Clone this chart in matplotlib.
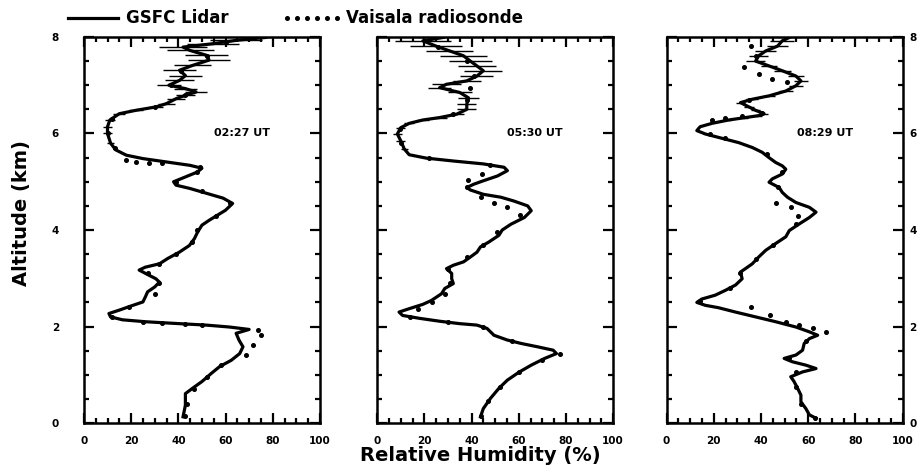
import numpy as np
import matplotlib
matplotlib.use('Agg')
import matplotlib.pyplot as plt
from matplotlib.ticker import MultipleLocator

# lidar profiles (altitude km, RH %, error %)
alt1 = [0.13, 0.37, 0.61, 0.72, 0.86, 1.03, 1.17, 1.30, 1.44, 1.58, 1.72, 1.86, 1.94, 1.99, 2.03, 2.06, 2.10, 2.14,
        2.20, 2.27, 2.34, 2.41, 2.51, 2.61, 2.72, 2.82, 2.92, 2.99, 3.06, 3.17, 3.23, 3.30, 3.41, 3.54, 3.68, 3.82,
        3.96, 4.10, 4.20, 4.41, 4.55, 4.66, 4.76, 4.86, 4.93, 5.00, 5.10, 5.20, 5.28, 5.34, 5.41, 5.48, 5.55, 5.66,
        5.80, 6.00, 6.14, 6.28, 6.41, 6.48, 6.55, 6.62, 6.72, 6.79, 6.86, 6.93, 7.00, 7.10, 7.20, 7.31, 7.41, 7.52,
        7.62, 7.72, 7.79, 7.86, 7.93, 7.99]
rh1 = [42, 43, 43, 46, 50, 54, 57.5, 62.4, 66, 67.4, 65.7, 64.5, 70, 61.7, 51.8, 40.4, 26, 16.3,
       11.3, 10.6, 15, 19, 25, 26, 27, 30, 32, 30.5, 27.7, 23.4, 26, 32, 35.5, 40.4, 44.7, 46.8,
       48.2, 50, 53, 60, 63, 59, 52, 45, 39, 38, 43, 48, 50, 45, 35, 25, 18, 13.5,
       11.3, 10, 10, 11, 15, 22, 30.5, 35, 39, 43, 47.5, 43, 36, 40.5, 43, 40.5, 46, 53,
       52, 45, 42, 54.6, 64.5, 77]
err1 = [0] * 54 + [1.5, 2, 2, 2, 2.5, 3, 3, 3.5, 4, 4, 4.5, 5, 5, 6, 7, 7, 8, 9,
                   9, 10, 10, 11, 11, 12]

alt2 = [0.13, 0.30, 0.51, 0.72, 0.89, 1.06, 1.20, 1.34, 1.44, 1.51, 1.58, 1.65, 1.72, 1.82, 1.96, 2.03, 2.06, 2.11,
        2.17, 2.23, 2.30, 2.37, 2.46, 2.54, 2.68, 2.79, 2.89, 2.99, 3.10, 3.20, 3.27, 3.34, 3.44, 3.54, 3.65, 3.75,
        3.89, 4.00, 4.12, 4.26, 4.40, 4.50, 4.60, 4.68, 4.74, 4.83, 4.88, 4.95, 5.02, 5.12, 5.23, 5.30, 5.37, 5.43,
        5.49, 5.56, 5.68, 5.85, 5.99, 6.12, 6.21, 6.28, 6.33, 6.40, 6.50, 6.61, 6.74, 6.85, 6.95, 7.02, 7.09, 7.19,
        7.30, 7.40, 7.50, 7.61, 7.71, 7.81, 7.92, 7.99]
rh2 = [43.8, 45, 48, 51.6, 55.2, 60.3, 65.3, 71, 76, 74.6, 68, 61, 55.2, 49.5, 46.6, 42.3, 35, 26.5,
       18, 10.8, 9.3, 13.6, 19.4, 23, 27.3, 28.7, 32.3, 31.6, 31.6, 29.4, 32.3, 36.6, 39.5, 42.3, 43.8, 47.3,
       51.6, 53, 56.7, 62.4, 65.3, 63.8, 58, 52.4, 45, 39.5, 38, 41, 45, 51, 55.2, 53.8, 45, 32.3,
       20.8, 13.6, 11.5, 10, 8.6, 10, 13.6, 19.4, 26.5, 33.7, 38, 38, 38.7, 35, 26.5, 29.4, 38, 42.3,
       45, 42.3, 39.5, 36.6, 30.8, 25, 19.4, 28]
err2 = [0] * 56 + [1.5, 2, 2, 2, 2, 2.5, 3, 3, 4, 4, 4.5, 5, 5, 6, 6, 7,
                   8, 8, 9, 10, 10, 11, 12, 12]

alt3 = [0.10, 0.17, 0.30, 0.44, 0.58, 0.72, 0.86, 0.96, 1.06, 1.13, 1.20, 1.27, 1.34, 1.41, 1.51, 1.65, 1.75, 1.82,
        1.89, 1.99, 2.10, 2.20, 2.30, 2.39, 2.44, 2.50, 2.57, 2.65, 2.75, 2.86, 2.99, 3.13, 3.20, 3.30, 3.44, 3.58,
        3.72, 3.86, 3.99, 4.12, 4.26, 4.37, 4.47, 4.57, 4.68, 4.78, 4.88, 4.99, 5.06, 5.16, 5.26, 5.33, 5.40, 5.50,
        5.61, 5.71, 5.81, 5.90, 5.99, 6.06, 6.14, 6.21, 6.28, 6.33, 6.37, 6.41, 6.48, 6.55, 6.64, 6.71, 6.78, 6.88,
        6.99, 7.09, 7.19, 7.30, 7.40, 7.50, 7.61, 7.71, 7.81, 7.92, 7.99]
rh3 = [63.3, 60.5, 59, 56.9, 56.9, 55.5, 54, 52.6, 57.6, 63.3, 59, 53.3, 49.8, 54.8, 57.6, 58.3, 60.5, 64,
       60.5, 54.8, 46.2, 37.7, 29.2, 22, 16.4, 12.8, 14.9, 20.6, 24.9, 29.2, 32, 31.3, 33.4, 36.3, 39, 42,
       46.2, 50.5, 52, 56, 60.5, 63.3, 60.5, 54.8, 51.2, 49, 47.7, 43.4, 44.8, 49, 50.5, 49, 46.2, 43.4,
       40.5, 36.3, 30.6, 23.5, 16.4, 12.8, 14.2, 19.2, 26.3, 33.4, 39, 41.3, 37.7, 34.9, 31.3, 36.3, 43.4, 50.5,
       54.8, 56.9, 54.8, 49, 43.4, 37.7, 39, 42, 47, 49, 52]
err3 = [0] * 62 + [1, 1, 1.5, 1.5, 2, 2, 2, 2.5, 2.5, 3, 3, 3, 3.5, 3.5, 3.5, 4, 4, 4.5, 4.5, 5, 5]

# Vaisala radiosonde points
sonde_alt1 = [0.15, 0.40, 0.70, 0.95, 1.20, 1.41, 1.61, 1.82, 1.92, 2.04, 2.06, 2.08, 2.10, 2.20, 2.40, 2.68,
              2.90, 3.10, 3.30, 3.50, 3.75, 4.00, 4.30, 4.55, 4.80, 5.00, 5.20, 5.30, 5.38, 5.38, 5.41, 5.46,
              5.70, 6.00, 6.30, 6.55, 6.80, 7.00, 7.30, 7.60, 7.90]
sonde_rh1 = [43, 43.5, 46.5, 52, 58, 68.8, 71.6, 75, 73.8, 50, 43, 33, 25, 12, 19, 30.2,
             32, 27, 32, 39, 46, 48, 56, 62, 50, 39, 48, 49, 33, 27.7, 22, 17.7,
             13, 10, 12, 30, 43, 37, 41, 52, 60]

sonde_alt2 = [0.15, 0.45, 0.75, 1.05, 1.30, 1.44, 1.70, 2.00, 2.10, 2.20, 2.37, 2.51, 2.68, 2.90, 3.20, 3.45,
              3.70, 3.95, 4.31, 4.47, 4.57, 4.68, 4.90, 5.04, 5.16, 5.35, 5.50, 5.80, 6.10, 6.40, 6.70, 6.94,
              7.20, 7.50, 7.80]
sonde_rh2 = [44, 47, 52, 60, 70, 77.5, 57, 45, 30, 14, 17.2, 23.4, 28.7, 31, 30, 38,
             45, 51, 60.5, 55.2, 49.5, 44, 38, 38.7, 44.5, 48, 22, 10, 9.5, 32, 38, 39.4,
             41, 38, 26]

sonde_alt3 = [0.10, 0.40, 0.75, 1.05, 1.35, 1.70, 1.89, 1.96, 2.03, 2.10, 2.23, 2.41, 2.52, 2.80, 3.10, 3.40,
              3.70, 4.12, 4.30, 4.47, 4.57, 4.90, 5.20, 5.57, 5.90, 5.99, 6.28, 6.33, 6.37, 6.42, 6.70, 7.06,
              7.12, 7.23, 7.37, 7.60, 7.81]
sonde_rh3 = [63, 57, 55, 55, 52, 59, 67.6, 61.9, 56.2, 50.5, 44, 35.6, 14, 27, 31, 38,
             45, 54.8, 55.5, 52.6, 46.2, 47, 49, 42.7, 24.9, 18.5, 19.2, 24.9, 32, 40.5, 35, 51.2,
             44.8, 39, 32.7, 38, 35.6]

times = ['02:27 UT', '05:30 UT', '08:29 UT']

lidar = [(alt1, rh1, err1), (alt2, rh2, err2), (alt3, rh3, err3)]
sonde = [(sonde_alt1, sonde_rh1), (sonde_alt2, sonde_rh2), (sonde_alt3, sonde_rh3)]

plt.rcParams['font.family'] = ['DejaVu Sans']
plt.rcParams['font.weight'] = 'bold'

fig = plt.figure(figsize=(9.22, 4.68), dpi=100)
lefts = [0.091, 0.409, 0.723]
width = 0.256
axes = []
for i in range(3):
    ax = fig.add_axes([lefts[i], 0.096, width, 0.825])
    a, r, e = lidar[i]
    ln = ax.errorbar(r, a, xerr=e, fmt='-', color='black', lw=2.3, elinewidth=1.0, capsize=0)
    sa, sr = sonde[i]
    sd, = ax.plot(sr, sa, ls='none', marker='o', ms=2.6, color='black')
    ax.set_xlim(0, 100)
    ax.set_ylim(0, 8)
    ax.xaxis.set_major_locator(MultipleLocator(20))
    ax.xaxis.set_minor_locator(MultipleLocator(5))
    ax.yaxis.set_major_locator(MultipleLocator(2))
    ax.yaxis.set_minor_locator(MultipleLocator(0.5))
    ax.tick_params(which='both', direction='in', top=True, right=True, width=1.6, labelsize=7.5)
    ax.tick_params(which='major', length=7)
    ax.tick_params(which='minor', length=3.5)
    ax.tick_params(axis='x', pad=9)
    for s in ax.spines.values():
        s.set_linewidth(1.8)
    ax.text(67, 6, times[i], ha='center', va='center', fontsize=8, fontweight='bold')
    if i == 0:
        ax.tick_params(axis='y', labelleft=True, pad=18)
    elif i == 1:
        ax.tick_params(axis='y', labelleft=False)
    else:
        ax.tick_params(axis='y', labelleft=False, labelright=True, pad=5)
    axes.append(ax)

fig.text(0.521, 0.027, 'Relative Humidity (%)', ha='center', va='center', fontsize=14, fontweight='bold')
fig.text(0.023, 0.545, 'Altitude (km)', ha='center', va='center', rotation=90, fontsize=14, fontweight='bold')

fig.legend([ln.lines[0], sd], ['GSFC Lidar', 'Vaisala radiosonde'], loc='upper left',
           bbox_to_anchor=(0.052, 1.012), ncol=2, frameon=False, handlelength=3.6, numpoints=6,
           columnspacing=3.2, handletextpad=0.2, prop={'size': 12, 'weight': 'bold'})

fig.savefig('out.png', dpi=100)
